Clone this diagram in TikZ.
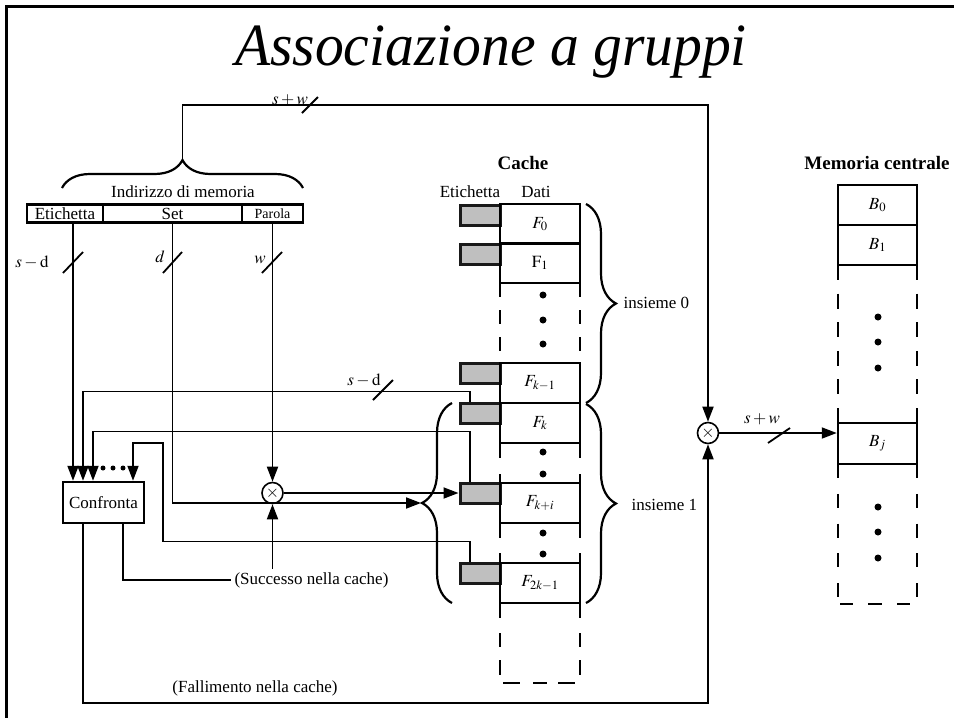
\documentclass[tikz,border=0pt]{standalone}
\usepackage{graphicx}
\usepackage{mathptmx}
\usepackage{fontspec}
\setmainfont{Liberation Serif}
\usetikzlibrary{arrows.meta,decorations.pathreplacing,positioning}

\tikzset{
  every node/.style={font=\fontsize{17}{20}\selectfont},
  wire/.style={line width=1.8pt},
  arr/.style={wire,-{Triangle[length=15pt,width=11pt]}},
  regcell/.style={draw,line width=2.5pt,minimum height=18pt,inner sep=0pt},
  datacell/.style={draw,line width=2.5pt,minimum width=80pt,minimum height=40pt,inner sep=0pt},
  tagcell/.style={draw=black!90,fill=black!25,line width=3pt,minimum width=40pt,minimum height=20pt,inner sep=0pt},
  side/.style={line width=2.5pt},
  mult/.style={draw,circle,line width=1.6pt,minimum size=21pt,inner sep=0pt,font=\fontsize{17}{17}\selectfont},
  curly/.style={line width=2.2pt,decorate,decoration={brace,amplitude=#1}},
  hdr/.style={font=\fontsize{19}{21}\selectfont\bfseries},
}

\begin{document}
\begin{tikzpicture}[x=1pt,y=-1pt]
\useasboundingbox (0,0) rectangle (954,718);
\draw[line width=3pt] (6,718) -- (6,6) -- (954,6);
\node[anchor=base,font=\fontsize{60}{62}\selectfont\itshape] (title) at (491,65) {\scalebox{0.96}[1]{Associazione a gruppi}};

% indirizzo di memoria
\node[regcell,minimum width=76pt] (rtag) at (65,213.5) {Etichetta};
\node[regcell,minimum width=139pt] (rset) at (172.5,213.5) {Set};
\node[regcell,minimum width=61pt,font=\fontsize{14}{16}\selectfont] (rword) at (272.5,213.5) {Parola};
\draw[curly=28pt] (62,188) -- (303,188);
\coordinate (addr) at (182.5,160);
\node (addrlbl) at (183,192) {Indirizzo di memoria};

% cache
\node[hdr] (cachehd) at (523,163) {Cache};
\node (taghd) at (470,192) {Etichetta};
\node (datahd) at (536,192) {Dati};
\node[tagcell] (t0) at (480,215) {};
\node[tagcell] (t1) at (480,254) {};
\node[tagcell] (tk1) at (480,373) {};
\node[tagcell] (tk) at (480,413) {};
\node[tagcell] (tki) at (480,493) {};
\node[tagcell] (t2k) at (480,573) {};
\node[datacell] (f0) at (540,224) {$F_0$};
\node[datacell] (f1) at (540,263) {$\mathrm{F}_1$};
\node[datacell] (fk1) at (540,383) {$F_{k-1}$};
\node[datacell] (fk) at (540,423) {$F_k$};
\node[datacell] (fki) at (540,503) {$F_{k+i}$};
\node[datacell] (f2k) at (540,583) {$F_{2k-1}$};
\foreach \x in {500,580} {
  \draw[side,dash pattern=on 14pt off 13pt] (\x,283) -- (\x,363);
  \draw[side] (\x,443) -- (\x,458) (\x,474) -- (\x,483) (\x,523) -- (\x,538) (\x,553) -- (\x,563)
    (\x,603) -- (\x,618) (\x,633) -- (\x,647) (\x,660) -- (\x,675);
}
\draw[side] (503,683) -- (520,683) (533,683) -- (547,683) (558,683) -- (575,683);
\foreach \y in {295,320,344,452,474,533,554} \fill (543,\y) circle (3.5pt);
\draw[curly=30pt] (586,204) -- (586,403);
\draw[curly=30pt] (586,404) -- (586,603);
\draw[curly=30pt] (452,603) -- (452,403);
\coordinate (settip) at (421,503);
\node[anchor=west] (ins0) at (620,303) {insieme 0};
\node[anchor=west] (ins1) at (628,505) {insieme 1};

% memoria centrale
\node[hdr] (memhd) at (877,163) {Memoria centrale};
\node[datacell,minimum width=79pt] (b0) at (877.5,205) {$B_0$};
\node[datacell,minimum width=79pt] (b1) at (877.5,245) {$B_1$};
\node[datacell,minimum width=79pt,minimum height=41pt] (bj) at (877.5,443.5) {$B_j$};
\foreach \x in {838,917} {
  \draw[side,dash pattern=on 15pt off 13.6pt] (\x,265) -- (\x,423);
  \draw[side,dash pattern=on 14pt off 15.75pt] (\x,464) -- (\x,597);
}
\draw[side] (840,604) -- (853,604) (868,604) -- (882,604) (897,604) -- (910,604);
\foreach \y in {317,342,368,507,532,558} \fill (878,\y) circle (3.5pt);

% confronto
\node[draw,line width=2.5pt,minimum width=81pt,minimum height=41pt,inner sep=0pt] (conf) at (103.5,502.5) {Confronta};
\coordinate (in1) at ([xshift=-30.5pt]conf.north);
\coordinate (in2) at ([xshift=-20.5pt]conf.north);
\coordinate (in3) at ([xshift=-10.5pt]conf.north);
\coordinate (in4) at ([xshift=29.5pt]conf.north);
\foreach \x in {103,113,123} \fill (\x,468) circle (2.5pt);
\node[mult] (xw) at (272.5,493) {$\times$};
\node[mult] (xm) at (708,433) {$\times$};

% collegamenti
\draw[arr] (addr) -- (182.5,105) -| (xm.north);
\draw[wire] (302,113) -- (318,97);
\node (swtop) at (290,100) {$s+w$};
\draw[arr] (rtag.south -| in1) -- (in1);
\draw[wire] (63,273) -- (83,252);
\node (sd1) at (32,262) {$s-\mathrm{d}$};
\draw[arr] (rset.south) |- (settip);
\draw[wire] (163,273) -- (182,252);
\node (dlbl) at (160,257) {$d$};
\draw[arr] (rword.south) -- (xw.north);
\draw[wire] (262,273) -- (282,252);
\node (wlbl) at (260,260) {$w$};
\draw[arr] (xw.east) -- (tki.west);
\draw[arr] ([xshift=-10pt]tk.north) -- ++(0,-10) -| (in2);
\draw[wire] (373,400) -- (393,380);
\node (sd2) at (364,380) {$s-\mathrm{d}$};
\draw[arr] ([xshift=-10pt]tki.north) -- ++(0,-50) -| (in3);
\draw[arr] ([xshift=-10pt]t2k.north) -- ++(0,-20) -| (163,443) -| (in4);
\node[anchor=west] (succ) at (231,580) {(Successo nella cache)};
\draw[wire] ([xshift=19.5pt]conf.south) |- (succ.west);
\draw[arr] (succ.north -| xw) -- (xw.south);
\node (fall) at (255,688) {(Fallimento nella cache)};
\draw[arr] ([xshift=-20.5pt]conf.south) -- ++(0,179) -| (xm.south);
\draw[arr] (xm.east) -- (xm.east -| bj.west);
\draw[wire] (768,443) -- (790,428);
\node (swbot) at (762,419) {$s+w$};
\end{tikzpicture}
\end{document}
